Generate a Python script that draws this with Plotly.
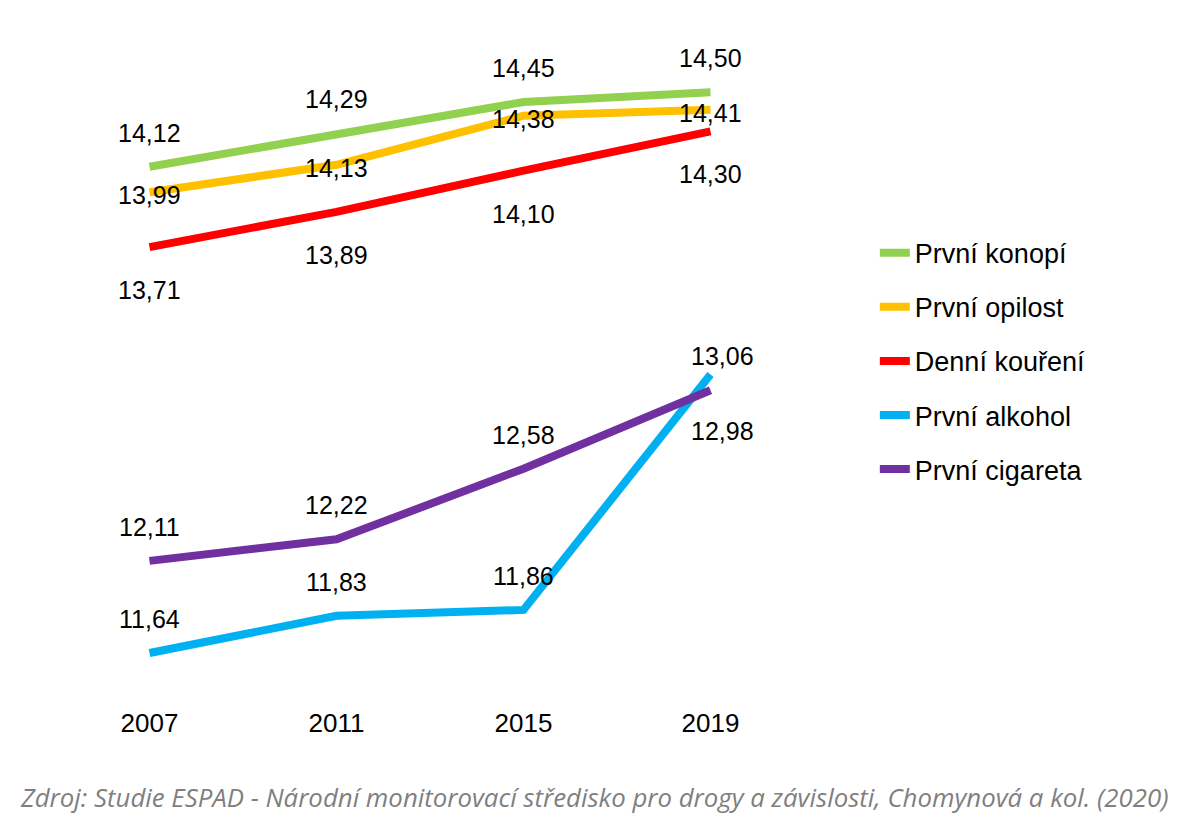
import plotly.graph_objects as go

years = ["2007", "2011", "2015", "2019"]

series_names = ["První konopí", "První opilost", "Denní kouření", "První alkohol", "První cigareta"]
konopi = [14.12, 14.29, 14.45, 14.50]
opilost = [13.99, 14.13, 14.38, 14.41]
koureni = [13.71, 13.89, 14.10, 14.30]
alkohol = [11.64, 11.83, 11.86, 13.06]
cigareta = [12.11, 12.22, 12.58, 12.98]

source_text = "Zdroj: Studie ESPAD - Národní monitorovací středisko pro drogy a závislosti, Chomynová a kol. (2020)"

colors = ["#92D050", "#FFC000", "#FF0000", "#00B0F0", "#7030A0"]
# label offsets in px (positive y = up)
label_yshift = [
    [34, 34, 34, 34],
    [-3, -3, -3, -3],
    [-43, -43, -43, -43],
    [34, 34, 34, 19],
    [34, 34, 34, -41],
]
label_xshift = [
    [0, 0, 0, 0],
    [0, 0, 0, 0],
    [0, 0, 0, 0],
    [0, 0, 0, 12],
    [0, 0, 0, 12],
]

all_values = [konopi, opilost, koureni, alkohol, cigareta]
FONT = "Liberation Sans, Arial, sans-serif"

fig = go.Figure()
annotations = []
for i, (name, vals, col) in enumerate(zip(series_names, all_values, colors)):
    fig.add_trace(go.Scatter(
        x=years, y=vals, name=name, mode="lines",
        line=dict(color=col, width=8),
        legendgroup=f"g{i}",
        hoverinfo="x+y+name",
    ))
    for j, v in enumerate(vals):
        annotations.append(dict(
            x=j, y=v, xref="x", yref="y",
            text=f"{v:.2f}".replace(".", ","),
            showarrow=False,
            yshift=label_yshift[i][j], xshift=label_xshift[i][j],
            font=dict(family=FONT, size=25, color="#000000"),
        ))

annotations.append(dict(
    x=-0.051, y=-0.141, xref="paper", yref="paper",
    xanchor="left", yanchor="middle",
    text=f"<i>{source_text}</i>", showarrow=False,
    font=dict(family="Open Sans, Noto Sans, sans-serif", size=25.8, color="#7f7f7f"),
))

fig.update_layout(
    width=1192, height=824,
    margin=dict(l=48, r=396, t=45, b=127),
    paper_bgcolor="white", plot_bgcolor="white",
    showlegend=True,
    legend=dict(
        x=1.0947, xanchor="left", y=0.7306, yanchor="top",
        font=dict(family=FONT, size=27, color="#000000"),
        tracegroupgap=16,
        bgcolor="rgba(0,0,0,0)",
    ),
    annotations=annotations,
    xaxis=dict(
        type="category", range=[-0.5, 3.5],
        showgrid=False, zeroline=False, showline=False, ticks="",
        ticklabelstandoff=0,
        tickfont=dict(family=FONT, size=26, color="#000000"),
    ),
    yaxis=dict(
        range=[11.375, 14.7],
        showgrid=False, zeroline=False, showline=False,
        showticklabels=False, ticks="",
    ),
)

fig.write_html("out.html")
